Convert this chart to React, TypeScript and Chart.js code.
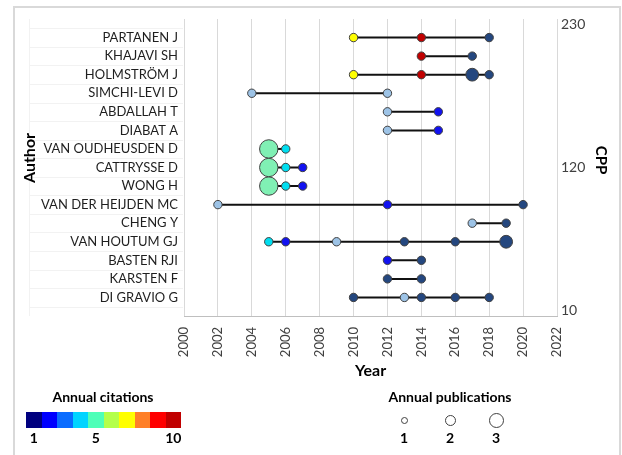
import React, { useEffect, useRef } from "react";
import { Chart, registerables } from "chart.js";

Chart.register(...registerables);

// ---------- data ----------
const authors = [
  "PARTANEN J",
  "KHAJAVI SH",
  "HOLMSTRÖM J",
  "SIMCHI-LEVI D",
  "ABDALLAH T",
  "DIABAT A",
  "VAN OUDHEUSDEN D",
  "CATTRYSSE D",
  "WONG H",
  "VAN DER HEIJDEN MC",
  "CHENG Y",
  "VAN HOUTUM GJ",
  "BASTEN RJI",
  "KARSTEN F",
  "DI GRAVIO G",
];

const pubYears = [
  [2010, 2014, 2018],
  [2014, 2017],
  [2010, 2014, 2017, 2018],
  [2004, 2012],
  [2012, 2015],
  [2012, 2015],
  [2005, 2006],
  [2005, 2006, 2007],
  [2005, 2006, 2007],
  [2002, 2012, 2020],
  [2017, 2019],
  [2005, 2006, 2009, 2013, 2016, 2019],
  [2012, 2014],
  [2012, 2014],
  [2010, 2013, 2014, 2016, 2018],
];

const annualCitations = [
  [7, 9, 1],
  [9, 1],
  [7, 9, 1, 1],
  [3, 3],
  [3, 2],
  [3, 2],
  [5, 4],
  [5, 4, 2],
  [5, 4, 2],
  [3, 2, 1],
  [3, 1],
  [4, 2, 3, 1, 1, 1],
  [2, 1],
  [1, 1],
  [1, 3, 1, 1, 1],
];

const annualPublications = [
  [1, 1, 1],
  [1, 1],
  [1, 1, 2, 1],
  [1, 1],
  [1, 1],
  [1, 1],
  [3, 1],
  [3, 1, 1],
  [3, 1, 1],
  [1, 1, 1],
  [1, 1],
  [1, 1, 1, 1, 1, 2],
  [1, 1],
  [1, 1],
  [1, 1, 1, 1, 1],
];

const yearMin = 2000;
const yearMax = 2022;
const yearStep = 2;
const cppTicks = [10, 120, 230];
const cppMin = 5.4;
const cppMax = 234.6;

const citationScaleLabels = ["1", "5", "10"];
const publicationLegendValues = [1, 2, 3];

// ---------- styles ----------
const FONT = "Lato, 'Open Sans', sans-serif";
const pointPalette: Record<number, string> = {
  1: "#24477f",
  2: "#1212f0",
  3: "#9dc3e6",
  4: "#00def0",
  5: "#80f0b4",
  7: "#ffff00",
  9: "#c00000",
};
const radiusBySize: Record<number, number> = { 1: 4.2, 2: 6.4, 3: 9.2 };
const colorBar = [
  "#00007f",
  "#0000ff",
  "#0a6cff",
  "#00d4ff",
  "#4dffb8",
  "#b4ff4a",
  "#ffff00",
  "#ff7f27",
  "#ff0000",
  "#c00000",
];
const legendRadius: Record<number, number> = { 1: 3.5, 2: 5.5, 3: 7.5 };

const rowValue = (i: number) => authors.length - i;

const decorPlugin = {
  id: "decor",
  beforeDraw(chart: any) {
    const { ctx, chartArea } = chart;
    const y = chart.scales.y;
    ctx.save();
    ctx.strokeStyle = "#f2f2f2";
    ctx.lineWidth = 1;
    for (let v = 0; v <= authors.length; v++) {
      const py = Math.round(y.getPixelForValue(v + 0.5)) + 0.5;
      ctx.beginPath();
      ctx.moveTo(30, py);
      ctx.lineTo(chartArea.left - 1, py);
      ctx.stroke();
    }
    ctx.beginPath();
    ctx.moveTo(29.5, chartArea.top);
    ctx.lineTo(29.5, chartArea.bottom);
    ctx.stroke();
    ctx.restore();
  },
  afterDraw(chart: any) {
    const { ctx } = chart;
    ctx.save();
    ctx.fillStyle = "#000000";
    ctx.font = `bold 16px ${FONT}`;
    ctx.textAlign = "center";
    ctx.textBaseline = "middle";
    ctx.translate(30, 158);
    ctx.rotate(-Math.PI / 2);
    ctx.fillText("Author", 0, 0);
    ctx.restore();
    ctx.save();
    ctx.fillStyle = "#000000";
    ctx.font = `bold 15px ${FONT}`;
    ctx.textAlign = "center";
    ctx.textBaseline = "middle";
    ctx.translate(601, 160);
    ctx.rotate(Math.PI / 2);
    ctx.fillText("CPP", 0, 0);
    ctx.restore();
  },
};

export default function App() {
  const canvasRef = useRef<HTMLCanvasElement | null>(null);

  useEffect(() => {
    const canvas = canvasRef.current;
    if (!canvas) return;

    const datasets = authors.map((name, i) => ({
      label: name,
      data: pubYears[i].map((yr) => ({ x: yr, y: rowValue(i) })),
      showLine: true,
      borderColor: "#111111",
      borderWidth: 2,
      pointBackgroundColor: annualCitations[i].map((c) => pointPalette[c]),
      pointBorderColor: "#404040",
      pointBorderWidth: 1,
      pointRadius: annualPublications[i].map((p) => radiusBySize[p]),
      pointHoverRadius: annualPublications[i].map((p) => radiusBySize[p]),
      yAxisID: "y",
      order: i,
    }));

    const chart = new Chart(canvas, {
      type: "scatter",
      data: { datasets: datasets as any },
      plugins: [decorPlugin],
      options: {
        animation: false,
        responsive: false,
        maintainAspectRatio: false,
        layout: { padding: { top: 19, left: 0, right: 0, bottom: 0 } },
        plugins: {
          legend: { display: false },
          tooltip: { enabled: false },
        },
        scales: {
          x: {
            type: "linear",
            min: yearMin,
            max: yearMax,
            ticks: {
              stepSize: yearStep,
              minRotation: 90,
              maxRotation: 90,
              padding: 11,
              color: "#404040",
              font: { family: FONT, size: 13 },
              callback: (v: any) => String(v),
            },
            grid: { color: "#d9d9d9", drawTicks: false, lineWidth: 1 },
            border: { color: "#bfbfbf", width: 1 },
            title: {
              display: true,
              text: "Year",
              color: "#000000",
              font: { family: FONT, size: 16, weight: "bold" },
              padding: { top: 0, bottom: 75 },
            },
            afterFit: (s: any) => {
              s.height = 139;
            },
          },
          y: {
            type: "linear",
            position: "left",
            min: 0,
            max: authors.length + 1,
            afterBuildTicks: (s: any) => {
              s.ticks = authors.map((_, i) => ({ value: rowValue(i) }));
            },
            ticks: {
              padding: 6,
              color: "#1f1f1f",
              font: { family: FONT, size: 13 },
              callback: (v: any) => authors[authors.length - Number(v)] ?? "",
            },
            grid: { display: false, drawTicks: false },
            border: { display: false },
            afterFit: (s: any) => {
              s.width = 184;
            },
          },
          cpp: {
            type: "linear",
            position: "right",
            min: cppMin,
            max: cppMax,
            afterBuildTicks: (s: any) => {
              s.ticks = cppTicks.map((v) => ({ value: v }));
            },
            ticks: {
              padding: 4,
              color: "#404040",
              font: { family: FONT, size: 14 },
              callback: (v: any) => String(v),
            },
            grid: { drawOnChartArea: false, drawTicks: false },
            border: { display: false },
            afterFit: (s: any) => {
              s.width = 65;
            },
          },
        },
      },
    });

    return () => chart.destroy();
  }, []);

  const legendText: React.CSSProperties = {
    position: "absolute",
    fontFamily: FONT,
    fontWeight: "bold",
    color: "#000",
    whiteSpace: "nowrap",
    transform: "translate(-50%, -50%)",
    lineHeight: 1,
  };

  const barLeft = 26;
  const barWidth = 155;
  const cell = barWidth / colorBar.length;
  const citationLabelX = [barLeft + cell * 0.5, barLeft + cell * 4.5, barLeft + cell * 9.5];
  const pubX = [404, 450, 496];

  return (
    <div
      style={{
        position: "fixed",
        left: 0,
        top: 0,
        width: 622,
        height: 455,
        background: "#ffffff",
        overflow: "hidden",
      }}
    >
      <div
        style={{
          position: "absolute",
          left: 13,
          top: 6,
          width: 608,
          height: 470,
          border: "2px solid #d9d9d9",
          boxSizing: "border-box",
        }}
      />
      <canvas
        ref={canvasRef}
        width={622}
        height={455}
        style={{ position: "absolute", left: 0, top: 0, width: 622, height: 455 }}
      />
      <div style={{ ...legendText, left: 103, top: 397, fontSize: 14 }}>Annual citations</div>
      <div
        style={{
          position: "absolute",
          left: barLeft,
          top: 412,
          width: barWidth,
          height: 16,
          display: "flex",
        }}
      >
        {colorBar.map((c, i) => (
          <div key={i} style={{ flex: 1, background: c }} />
        ))}
      </div>
      {citationScaleLabels.map((t, i) => (
        <div key={t} style={{ ...legendText, left: citationLabelX[i], top: 438, fontSize: 14 }}>
          {t}
        </div>
      ))}
      <div style={{ ...legendText, left: 450, top: 397, fontSize: 14 }}>Annual publications</div>
      {publicationLegendValues.map((v, i) => (
        <React.Fragment key={v}>
          <div
            style={{
              position: "absolute",
              left: pubX[i] - legendRadius[v],
              top: 420 - legendRadius[v],
              width: legendRadius[v] * 2,
              height: legendRadius[v] * 2,
              borderRadius: "50%",
              border: "1px solid #404040",
              boxSizing: "border-box",
              background: "#fff",
            }}
          />
          <div style={{ ...legendText, left: pubX[i], top: 438, fontSize: 14 }}>{String(v)}</div>
        </React.Fragment>
      ))}
    </div>
  );
}
